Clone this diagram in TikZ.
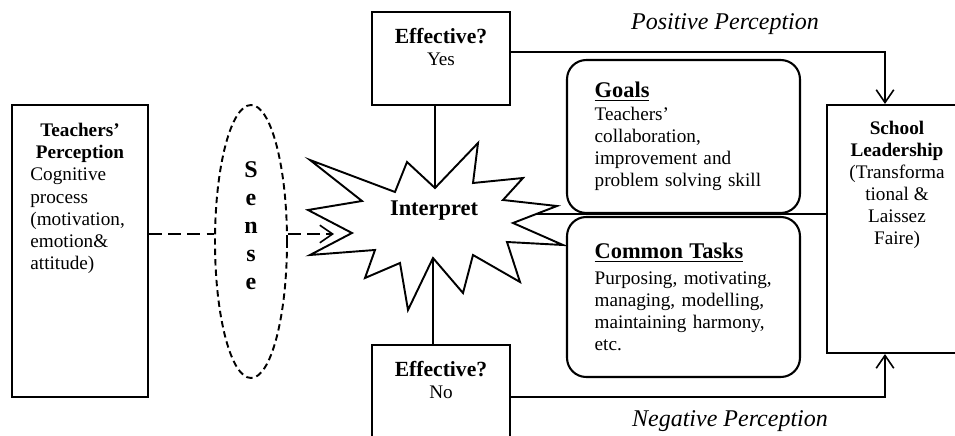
\documentclass[tikz,border=0pt]{standalone}
\usepackage{fontspec}
\setmainfont{Liberation Serif}
\usetikzlibrary{arrows.meta,shapes.geometric}
\tikzset{
  block/.style={draw,line width=1.3pt,inner sep=0pt},
  roundblock/.style={draw,line width=1.3pt,rounded corners=12pt,align=left,
    text width=111pt,inner sep=0pt},
  boxtext/.style={align=center,anchor=north,inner sep=0pt,yshift=-10.5pt},
  link/.style={line width=1pt},
  flowarrow/.style={line width=1pt,-{Straight Barb[length=8pt,width=11pt]}},
  dashlink/.style={line width=1pt,dash pattern=on 8pt off 4pt},
  dasharrow/.style={dashlink,-{Straight Barb[length=8pt,width=11pt]}},
  caption/.style={font=\fontsize{15}{18}\selectfont\itshape}
}
\begin{document}
\begin{tikzpicture}[x=0.625pt,y=-0.625pt,font=\fontsize{12}{13.8}\selectfont]
  \useasboundingbox (0,0) rectangle (955,436);
  \clip (0,0) rectangle (955,436);
  % boxes
  \node[block,minimum width=85pt,minimum height=182.5pt,
    label={[boxtext,yshift=-1.5pt,text width=62pt,align=left]north:{{\centering\bfseries Teachers’\\Perception\endgraf}Cognitive\\process\\(motivation,\\emotion\&\\attitude)}}]
    (perception) at (80,251) {};
  \node[draw,ellipse,line width=1.2pt,dash pattern=on 4pt off 2.5pt,
    minimum width=45pt,minimum height=170.6pt,inner sep=0pt,
    label={[font=\fontsize{15}{17.5}\selectfont\bfseries,align=center,yshift=10pt]center:S\\e\\n\\s\\e}]
    (sense) at (251,241.5) {};
  \node[block,minimum width=86.25pt,minimum height=58.1pt,
    label={[boxtext]north:{\textbf{\fontsize{13.5}{14}\selectfont Effective?}\\Yes}}]
    (yes) at (441,58.5) {};
  \node[block,minimum width=86.25pt,minimum height=71.9pt,
    label={[boxtext]north:{\textbf{\fontsize{13.5}{14}\selectfont Effective?}\\No}}]
    (no) at (441,402.5) {};
  \node[roundblock,minimum width=145.6pt,minimum height=95.6pt] (goals) at (683.5,136.5)
    {\underline{\textbf{\fontsize{14}{16}\selectfont Goals}}\\[0.8pt]Teachers’\\collaboration,\\improvement and\\problem solving skill};
  \node[roundblock,minimum width=145.6pt,minimum height=100pt] (tasks) at (683.5,297)
    {\underline{\textbf{\fontsize{14}{16}\selectfont Common Tasks}}\\[2.5pt]Purposing, motivating,\\managing, modelling,\\maintaining harmony,\\etc.};
  \node[block,minimum width=87.5pt,minimum height=155pt,
    label={[boxtext]north:{\textbf{School}\\\textbf{Leadership}\\(Transforma\\tional \&\\Laissez\\Faire)}}]
    (school) at (897,229) {};
  % burst
  \draw[line width=1.2pt,line join=miter] (435,188) -- (478,143) -- (473,183) -- (523,178)
    -- (503,200) -- (557,206) -- (513,223) -- (563,245) -- (507,242) -- (520,282)
    -- (473,255) -- (463,293) -- (433,258) -- (408,310) -- (400,263) -- (365,278)
    -- (375,250) -- (310,255) -- (352,233) -- (308,210) -- (362,201) -- (310,160)
    -- (395,192) -- (407,162) -- cycle;
  \node[font=\fontsize{14}{16}\selectfont\bfseries] (interpret) at (434,211) {Interpret};
  \coordinate (topnotch) at (435,188);
  \coordinate (bottomnotch) at (433,258);
  \coordinate (burstedge) at (536,214);
  \coordinate (arrowtip) at (334,234);
  % connectors
  \draw[dashlink] (perception.east |- arrowtip) -- (sense.west |- arrowtip);
  \draw[dasharrow] (sense.east |- arrowtip) -- (arrowtip);
  \draw[link] (yes.south -| topnotch) -- (topnotch);
  \draw[link] (no.north -| bottomnotch) -- (bottomnotch);
  \draw[link] (burstedge) -- (school.west |- burstedge);
  \draw[flowarrow] (yes.east |- 0,52) -| (school.north -| 885,0);
  \draw[flowarrow] (no.east |- 0,397) -| (school.south -| 885,0);
  \node[caption] (positive) at (725,24) {Positive Perception};
  \node[caption] (negative) at (730,421) {Negative Perception};
\end{tikzpicture}
\end{document}
